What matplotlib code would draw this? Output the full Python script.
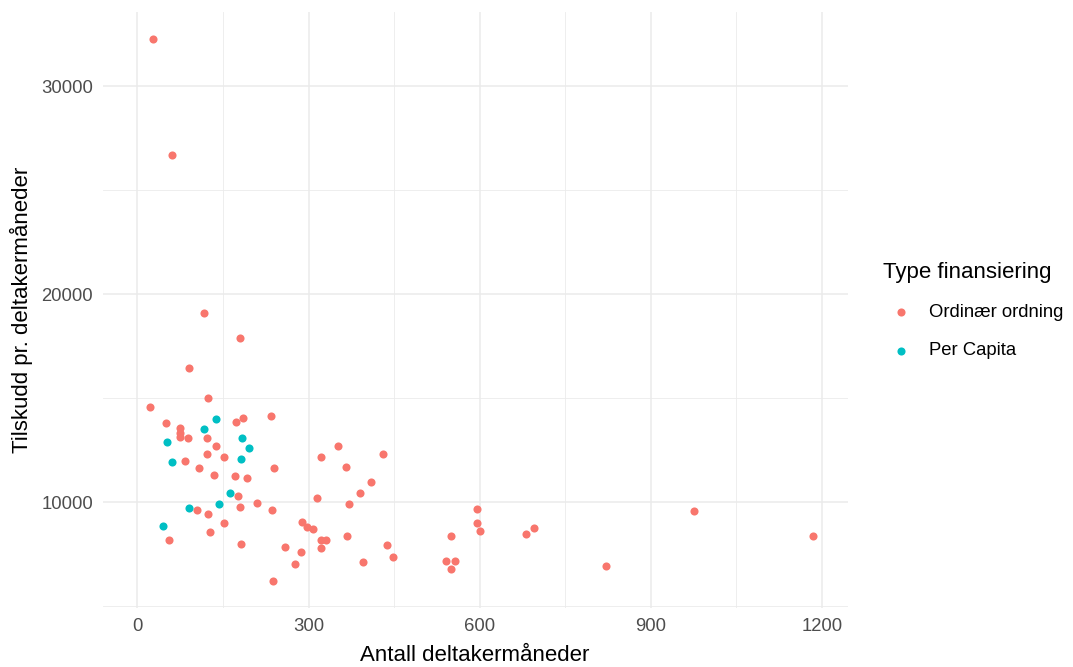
import matplotlib.pyplot as plt

plt.rcParams['font.family'] = ['Liberation Sans', 'DejaVu Sans']

# Ordinær ordning
ord_x = [28, 60, 116, 179, 91, 124, 22, 173, 185, 234, 50, 74, 74, 74, 88, 121,
         137, 121, 151, 83, 108, 135, 171, 192, 239, 176, 209, 105, 124, 179, 236,
         151, 127, 56, 182, 322, 352, 431, 365, 409, 390, 315, 371, 288, 297, 308,
         321, 330, 321, 368, 259, 286, 277, 395, 437, 448, 237, 596, 596, 601, 549,
         540, 557, 549, 681, 695, 821, 976, 1185]
ord_y = [32270, 26700, 19090, 17890, 16440, 15030, 14580, 13880, 14040, 14140, 13810,
         13560, 13320, 13120, 13080, 13080, 12710, 12320, 12160, 12000, 11640, 11330,
         11250, 11180, 11640, 10290, 9980, 9620, 9450, 9760, 9620, 9010, 8560, 8170,
         8010, 12160, 12690, 12320, 11710, 10960, 10430, 10210, 9900, 9070, 8830, 8700,
         8190, 8190, 7790, 8390, 7870, 7630, 7050, 7120, 7950, 7360, 6220, 9680, 8990,
         8610, 8390, 7190, 7190, 6810, 8460, 8760, 6950, 9600, 8390]

# Per Capita
pc_x = [137, 116, 52, 184, 195, 182, 61, 162, 143, 91, 44]
pc_y = [13990, 13520, 12910, 13080, 12610, 12080, 11920, 10430, 9900, 9740, 8850]

fig = plt.figure(figsize=(10.73, 6.67), dpi=100)
ax = fig.add_axes([0.0957, 0.0883, 0.6943, 0.8937])

ax.scatter(ord_x, ord_y, s=34, color='#F8766D', label='Ordinær ordning', zorder=3, linewidths=0)
ax.scatter(pc_x, pc_y, s=34, color='#00BFC4', label='Per Capita', zorder=3, linewidths=0)

ax.set_xlim(-61, 1245)
ax.set_ylim(4913, 33578)
ax.set_xticks([0, 300, 600, 900, 1200])
ax.set_xticks([150, 450, 750, 1050], minor=True)
ax.set_yticks([10000, 20000, 30000])
ax.set_yticks([5000, 15000, 25000], minor=True)

ax.grid(which='major', color='#EBEBEB', linewidth=1.1)
ax.grid(which='minor', color='#EBEBEB', linewidth=0.6)
ax.set_axisbelow(True)
for s in ax.spines.values():
    s.set_visible(False)
ax.tick_params(which='both', length=0)
ax.tick_params(axis='both', labelsize=13.3, labelcolor='#4D4D4D', pad=7)

ax.set_xlabel('Antall deltakermåneder', fontsize=16, labelpad=7)
ax.set_ylabel('Tilskudd pr. deltakermåneder', fontsize=16, labelpad=6)

leg = ax.legend(title='Type finansiering', loc='upper left',
                bbox_to_anchor=(883 / 1073, 1 - 262 / 667), bbox_transform=fig.transFigure,
                frameon=False, fontsize=13.3, title_fontsize=16, borderpad=0,
                handlelength=1.9, handletextpad=0.6, labelspacing=1.15,
                alignment='left', borderaxespad=0)

fig.savefig('out.png', dpi=100)
